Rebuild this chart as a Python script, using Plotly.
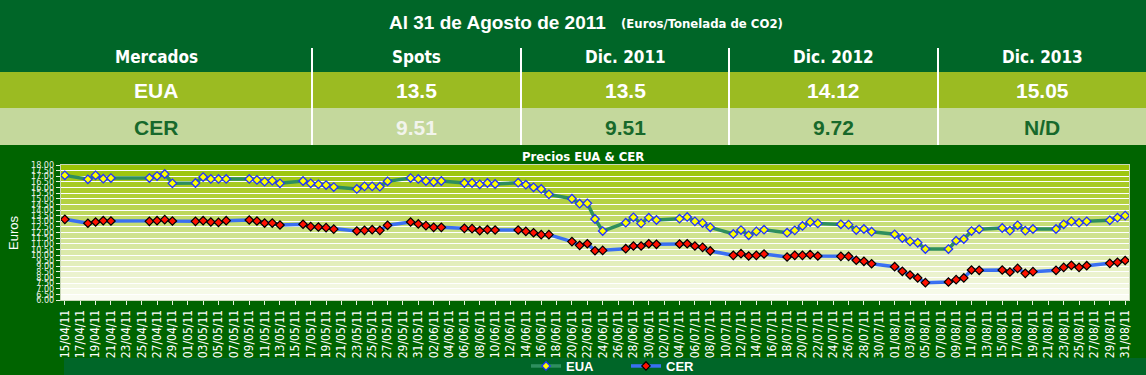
import plotly.graph_objects as go

# ---------------- data ----------------
dates = [
    "2011-04-15", "2011-04-18", "2011-04-19", "2011-04-20", "2011-04-21",
    "2011-04-26", "2011-04-27", "2011-04-28", "2011-04-29",
    "2011-05-02", "2011-05-03", "2011-05-04", "2011-05-05", "2011-05-06",
    "2011-05-09", "2011-05-10", "2011-05-11", "2011-05-12", "2011-05-13",
    "2011-05-16", "2011-05-17", "2011-05-18", "2011-05-19", "2011-05-20",
    "2011-05-23", "2011-05-24", "2011-05-25", "2011-05-26", "2011-05-27",
    "2011-05-30", "2011-05-31",
    "2011-06-01", "2011-06-02", "2011-06-03",
    "2011-06-06", "2011-06-07", "2011-06-08", "2011-06-09", "2011-06-10",
    "2011-06-13", "2011-06-14", "2011-06-15", "2011-06-16", "2011-06-17",
    "2011-06-20", "2011-06-21", "2011-06-22", "2011-06-23", "2011-06-24",
    "2011-06-27", "2011-06-28", "2011-06-29", "2011-06-30",
    "2011-07-01",
    "2011-07-04", "2011-07-05", "2011-07-06", "2011-07-07", "2011-07-08",
    "2011-07-11", "2011-07-12", "2011-07-13", "2011-07-14", "2011-07-15",
    "2011-07-18", "2011-07-19", "2011-07-20", "2011-07-21", "2011-07-22",
    "2011-07-25", "2011-07-26", "2011-07-27", "2011-07-28", "2011-07-29",
    "2011-08-01", "2011-08-02", "2011-08-03", "2011-08-04", "2011-08-05",
    "2011-08-08", "2011-08-09", "2011-08-10", "2011-08-11", "2011-08-12",
    "2011-08-15", "2011-08-16", "2011-08-17", "2011-08-18", "2011-08-19",
    "2011-08-22", "2011-08-23", "2011-08-24", "2011-08-25", "2011-08-26",
    "2011-08-29", "2011-08-30", "2011-08-31",
]

eua = [
    17.08, 16.73, 17.08, 16.78, 16.84, 16.84, 17.02, 17.20, 16.37,
    16.40, 16.93, 16.76, 16.76, 16.76,
    16.76, 16.67, 16.52, 16.61, 16.37,
    16.58, 16.37, 16.28, 16.22, 16.04,
    15.87, 16.10, 16.10, 16.07, 16.55,
    16.84, 16.76,
    16.58, 16.49, 16.58,
    16.40, 16.40, 16.28, 16.40, 16.31,
    16.43, 16.25, 16.02, 15.87, 15.39,
    15.00, 14.56, 14.59, 13.20, 12.13,
    12.87, 13.35, 12.81, 13.32,
    13.11,
    13.23, 13.38, 12.99, 12.84, 12.46,
    11.87, 12.22, 11.75, 12.10, 12.25,
    11.98, 12.19, 12.58, 12.93, 12.81,
    12.73, 12.70, 12.22, 12.31, 12.07,
    11.84, 11.51, 11.21, 11.09, 10.53,
    10.53, 11.27, 11.42, 12.13, 12.28,
    12.40, 12.16, 12.64, 12.16, 12.31,
    12.31, 12.73, 12.99, 12.87, 12.99,
    13.08, 13.32, 13.50,
]

cer = [
    13.17, 12.82, 12.93, 13.05, 13.02, 12.99, 13.05, 13.14, 13.02,
    12.99, 13.05, 12.93, 12.90, 13.05,
    13.11, 13.02, 12.84, 12.84, 12.67,
    12.73, 12.52, 12.49, 12.43, 12.30,
    12.13, 12.19, 12.25, 12.19, 12.64,
    12.93, 12.76,
    12.61, 12.46, 12.46,
    12.37, 12.34, 12.16, 12.25, 12.22,
    12.22, 12.10, 11.98, 11.81, 11.81,
    11.19, 10.86, 11.00, 10.38, 10.41,
    10.56, 10.80, 10.80, 11.00,
    10.95,
    10.98, 11.00, 10.80, 10.68, 10.36,
    9.97, 10.12, 9.91, 9.97, 10.09,
    9.82, 9.97, 9.97, 10.03, 9.91,
    9.88, 9.88, 9.53, 9.44, 9.22,
    8.96, 8.55, 8.22, 7.96, 7.54,
    7.60, 7.81, 7.96, 8.67, 8.64,
    8.67, 8.49, 8.81, 8.37, 8.52,
    8.64, 8.90, 9.08, 8.90, 9.05,
    9.26, 9.35, 9.51,
]

table_columns = ["Mercados", "Spots", "Dic. 2011", "Dic. 2012", "Dic. 2013"]
eua_row = ["EUA", "13.5", "13.5", "14.12", "15.05"]
cer_row = ["CER", "9.51", "9.51", "9.72", "N/D"]

title_main = "Al 31 de Agosto de 2011"
title_unit = "(Euros/Tonelada de CO2)"
chart_title = "Precios EUA & CER"

# ---------------- layout geometry (pixels) ----------------
W, H = 1146, 375
L, R, T, B = 61, 17, 165, 75
PW, PH = W - L - R, H - T - B


def px(x):
    return (x - L) / PW


def py(y):
    return (H - B - y) / PH


NARROW = "Liberation Sans Narrow, DejaVu Sans Condensed, Arial Narrow, sans-serif"
ARIAL = "Liberation Sans, Arial, sans-serif"

BG = "#006628"
CHART_BG = "#006400"
EUA_ROW = "#9BBB22"
CER_ROW = "#C4D89C"
DARK_TXT = "#17692B"

fig = go.Figure()

fig.add_trace(go.Scatter(
    x=dates, y=eua, name="EUA", mode="lines+markers",
    line=dict(color="#2E8F5E", width=3.5),
    marker=dict(symbol="diamond", size=6.5, color="#FFFF00",
                line=dict(color="#2233FF", width=1.3)),
))
fig.add_trace(go.Scatter(
    x=dates, y=cer, name="CER", mode="lines+markers",
    line=dict(color="#3A70F2", width=3.5),
    marker=dict(symbol="diamond", size=6.5, color="#FF1100",
                line=dict(color="#000000", width=1.2)),
))

shapes = []
# chart area background
shapes.append(dict(type="rect", xref="paper", yref="paper", layer="below",
                   x0=px(0), x1=px(W), y0=py(358), y1=py(145),
                   fillcolor=CHART_BG, line=dict(width=0)))
shapes.append(dict(type="rect", xref="paper", yref="paper", layer="below",
                   x0=px(0), x1=px(64), y0=py(375), y1=py(358),
                   fillcolor=CHART_BG, line=dict(width=0)))
# table rows
shapes.append(dict(type="rect", xref="paper", yref="paper", layer="below",
                   x0=px(0), x1=px(W), y0=py(108), y1=py(72),
                   fillcolor=EUA_ROW, line=dict(width=0)))
shapes.append(dict(type="rect", xref="paper", yref="paper", layer="below",
                   x0=px(0), x1=px(W), y0=py(145), y1=py(108),
                   fillcolor=CER_ROW, line=dict(width=0)))
col_edges = [0, 312, 521, 729, 938, W]
for xe in col_edges[1:-1]:
    shapes.append(dict(type="line", xref="paper", yref="paper", layer="above",
                       x0=px(xe), x1=px(xe), y0=py(48), y1=py(145),
                       line=dict(color="white", width=2)))

# plot-area gradient background bands (0.5 steps)
stops = [(18.0, (152, 194, 0)), (15.0, (178, 208, 60)), (12.0, (205, 225, 138)),
         (9.0, (229, 239, 192)), (6.0, (252, 253, 246))]


def grad(v):
    for (a, ca), (b, cb) in zip(stops[:-1], stops[1:]):
        if b <= v <= a:
            t = (a - v) / (a - b)
            return "rgb(%d,%d,%d)" % tuple(round(ca[i] + (cb[i] - ca[i]) * t) for i in range(3))
    return "rgb(252,253,246)"


k = 0
while k < 24:
    lo = 6 + 0.5 * k
    hi = lo + 0.5
    shapes.append(dict(type="rect", xref="paper", yref="y", layer="below",
                       x0=0, x1=1, y0=lo, y1=hi,
                       fillcolor=grad((lo + hi) / 2), line=dict(width=0)))
    k += 1

annotations = []
annotations.append(dict(text="<b>" + title_main + "</b>", xref="paper", yref="paper",
                        x=px(608), y=py(22), xanchor="right", yanchor="middle",
                        showarrow=False, font=dict(family=ARIAL, size=19, color="white")))
annotations.append(dict(text="<b>" + title_unit + "</b>", xref="paper", yref="paper",
                        x=px(619), y=py(23), xanchor="left", yanchor="middle",
                        showarrow=False, font=dict(family=NARROW, size=13, color="white")))
for i, name in enumerate(table_columns):
    cx = (col_edges[i] + col_edges[i + 1]) / 2
    annotations.append(dict(text="<b>" + name + "</b>", xref="paper", yref="paper",
                            x=px(cx), y=py(57), xanchor="center", yanchor="middle",
                            showarrow=False, font=dict(family=NARROW, size=17, color="white")))
    annotations.append(dict(text="<b>" + eua_row[i] + "</b>", xref="paper", yref="paper",
                            x=px(cx), y=py(90), xanchor="center", yanchor="middle",
                            showarrow=False, font=dict(family=ARIAL, size=21, color="white")))
    ccol = "#F2F4EC" if i == 1 else DARK_TXT
    annotations.append(dict(text="<b>" + cer_row[i] + "</b>", xref="paper", yref="paper",
                            x=px(cx), y=py(127), xanchor="center", yanchor="middle",
                            showarrow=False, font=dict(family=ARIAL, size=21, color=ccol)))
annotations.append(dict(text="<b>" + chart_title + "</b>", xref="paper", yref="paper",
                        x=px(583), y=py(156), xanchor="center", yanchor="middle",
                        showarrow=False, font=dict(family=NARROW, size=13, color="white")))
annotations.append(dict(text="Euros", xref="paper", yref="paper", textangle=-90,
                        x=px(13), y=py(233), xanchor="center", yanchor="middle",
                        showarrow=False, font=dict(family=ARIAL, size=13, color="white")))

fig.update_layout(
    width=W, height=H,
    margin=dict(l=L, r=R, t=T, b=B, pad=0, autoexpand=False),
    paper_bgcolor=BG, plot_bgcolor="#F8FAF0",
    shapes=shapes, annotations=annotations,
    showlegend=True,
    legend=dict(orientation="h", xref="container", yref="container",
                x=526 / W, y=(H - 366) / H, xanchor="left", yanchor="middle",
                entrywidth=55, entrywidthmode="pixels",
                bgcolor="rgba(0,0,0,0)",
                font=dict(family=ARIAL, size=13, color="white", weight="bold"),
                traceorder="normal"),
    xaxis=dict(type="date", range=["2011-04-14 12:00", "2011-08-31 12:00"],
               tick0="2011-04-15", dtick=2 * 86400000, tickformat="%d/%m/%y",
               tickangle=-90, ticks="outside", ticklen=4, tickcolor="#E8F0E0",
               showgrid=False, showline=True, linecolor="#C8D8B8", linewidth=1, mirror=True,
               tickfont=dict(family=NARROW, size=12, color="white"), automargin=False),
    yaxis=dict(range=[6, 18], dtick=0.5, tickformat=".2f", ticks="outside", ticklen=4,
               tickcolor="#E8F0E0", showgrid=True, gridcolor="white", gridwidth=1,
               showline=True, linecolor="#C8D8B8", linewidth=1, mirror=True, zeroline=False,
               tickfont=dict(family=NARROW, size=9, color="#E8EEE4"), automargin=False),
)

fig.write_html(
    "out.html",
    config={"displayModeBar": False},
    post_script="document.body.style.margin='0';document.body.style.overflow='hidden';",
)
